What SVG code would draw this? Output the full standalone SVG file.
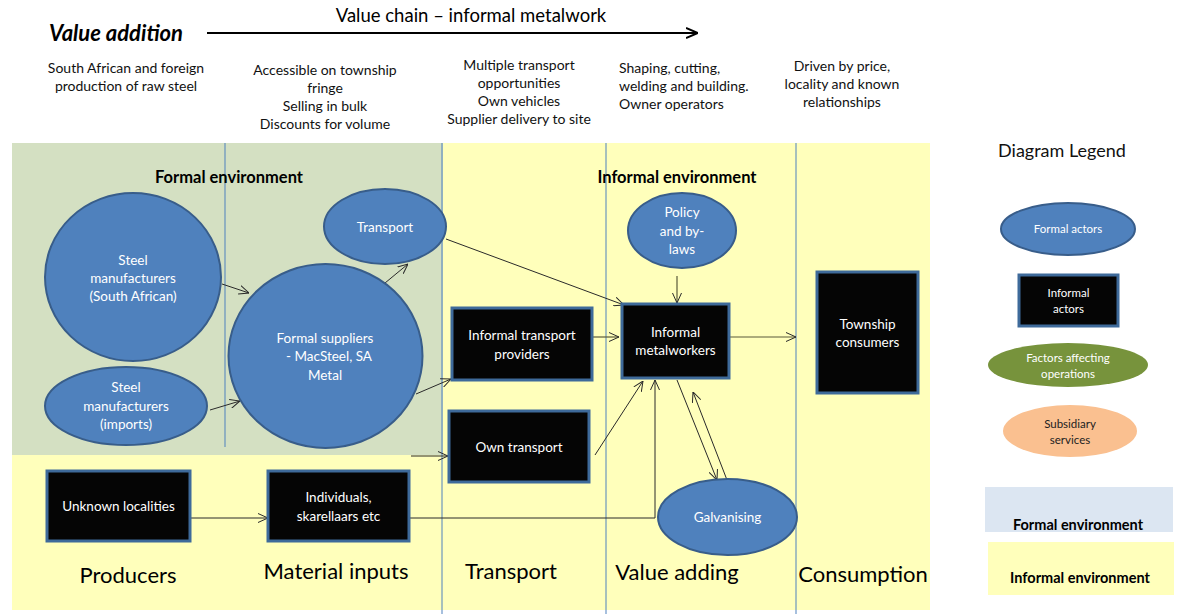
<svg xmlns="http://www.w3.org/2000/svg" width="1184" height="614" viewBox="0 0 1184 614">
<style>
text{font-family:Lato,"Open Sans","Liberation Sans",sans-serif}
.hdr{font-size:14px;fill:#111;text-anchor:middle}
.hdl{font-size:14px;fill:#111;text-anchor:start}
.wt{fill:#fff;font-size:13.5px;text-anchor:middle}
.ell{fill:#4f81bd;stroke:#385d8a;stroke-width:2}
.box{fill:#050505;stroke:#3e6a9a;stroke-width:3}
.vl{stroke:#4f81bd;stroke-width:1}
.env{font-size:16.5px;font-weight:bold;fill:#000;text-anchor:middle}
.stage{font-size:22px;fill:#000;text-anchor:middle}
.cn{fill:none;stroke:#2a2a2a;stroke-width:1}
.ol{fill:none;stroke:#5a5a3a;stroke-width:1.2}
.lg{font-size:11.5px;text-anchor:middle}
.lenv{font-size:14.5px;font-weight:bold;fill:#000;text-anchor:middle}
</style>
<defs>
<marker id="ah" viewBox="0 0 10 10" refX="10" refY="5" markerWidth="10" markerHeight="10" markerUnits="userSpaceOnUse" orient="auto">
<path d="M0,0.5 L10,5 L0,9.5" fill="none" stroke="#2a2a2a" stroke-width="1"/>
</marker>
<marker id="ahb" viewBox="0 0 12 12" refX="12" refY="6" markerWidth="12" markerHeight="12" markerUnits="userSpaceOnUse" orient="auto">
<path d="M0,1 L12,6 L0,11" fill="none" stroke="#000" stroke-width="2"/>
</marker>
</defs>
<rect width="1184" height="614" fill="#fff"/>
<!-- backgrounds -->
<rect x="12" y="143" width="918" height="467" fill="#ffffbb"/>
<rect x="12" y="143" width="431" height="312" fill="#d4e0c2"/>
<line class="vl" x1="225" y1="143" x2="225" y2="447"/>
<line class="vl" x1="442" y1="143" x2="442" y2="614"/>
<line class="vl" x1="606" y1="143" x2="606" y2="614"/>
<line class="vl" x1="796" y1="143" x2="796" y2="614"/>
<!-- header -->
<text x="49" y="41" font-size="22" font-weight="bold" font-style="italic" fill="#000">Value addition</text>
<text x="471" y="22" font-size="18.5" fill="#000" text-anchor="middle">Value chain – informal metalwork</text>
<line x1="207" y1="33" x2="698" y2="33" stroke="#000" stroke-width="2" marker-end="url(#ahb)"/>
<text class="hdr" x="126" y="73">South African and foreign</text>
<text class="hdr" x="126" y="91">production of raw steel</text>
<text class="hdr" x="325" y="75">Accessible on township</text>
<text class="hdr" x="325" y="93">fringe</text>
<text class="hdr" x="325" y="111">Selling in bulk</text>
<text class="hdr" x="325" y="129">Discounts for volume</text>
<text class="hdr" x="519" y="70">Multiple transport</text>
<text class="hdr" x="519" y="88">opportunities</text>
<text class="hdr" x="519" y="106">Own vehicles</text>
<text class="hdr" x="519" y="124">Supplier delivery to site</text>
<text class="hdl" x="619" y="73">Shaping, cutting,</text>
<text class="hdl" x="619" y="91">welding and building.</text>
<text class="hdl" x="619" y="109">Owner operators</text>
<text class="hdr" x="842" y="71">Driven by price,</text>
<text class="hdr" x="842" y="89">locality and known</text>
<text class="hdr" x="842" y="107">relationships</text>
<text class="env" x="229" y="183">Formal environment</text>
<text class="env" x="677" y="183">Informal environment</text>
<!-- connectors -->
<g id="connectors">
<line class="cn" x1="222" y1="284" x2="249" y2="293" marker-end="url(#ah)"/>
<line class="cn" x1="210" y1="410" x2="240" y2="401" marker-end="url(#ah)"/>
<line class="cn" x1="385" y1="283" x2="408" y2="264" marker-end="url(#ah)"/>
<line class="cn" x1="416" y1="394" x2="451" y2="379" marker-end="url(#ah)"/>
<line class="cn" x1="446" y1="239" x2="624" y2="305" marker-end="url(#ah)"/>
<line class="cn" x1="411" y1="456" x2="448" y2="456" marker-end="url(#ah)"/>
<line class="ol" x1="677" y1="276" x2="677" y2="303" marker-end="url(#ah)"/>
<line class="ol" x1="592" y1="337" x2="619" y2="337" marker-end="url(#ah)"/>
<line class="ol" x1="730" y1="337" x2="796" y2="337" marker-end="url(#ah)"/>
<line class="cn" x1="595" y1="455" x2="643" y2="381" marker-end="url(#ah)"/>
<line class="cn" x1="190" y1="518" x2="268" y2="518" marker-end="url(#ah)"/>
<polyline class="cn" points="409,518 655,518 655,380" marker-end="url(#ah)"/>
<line class="cn" x1="677" y1="380" x2="717" y2="480" marker-end="url(#ah)"/>
<line class="cn" x1="727" y1="480" x2="693" y2="392" marker-end="url(#ah)"/>
</g>
<!-- nodes -->
<g id="steel-sa">
<ellipse class="ell" cx="133" cy="277" rx="88" ry="84"/>
<text class="wt" x="133" y="265">Steel</text>
<text class="wt" x="133" y="283">manufacturers</text>
<text class="wt" x="133" y="301">(South African)</text>
</g>
<g id="steel-imports">
<ellipse class="ell" cx="126" cy="406" rx="81" ry="39"/>
<text class="wt" x="126" y="392">Steel</text>
<text class="wt" x="126" y="411">manufacturers</text>
<text class="wt" x="126" y="429">(imports)</text>
</g>
<g id="formal-suppliers">
<ellipse class="ell" cx="325.5" cy="356" rx="97" ry="92"/>
<text class="wt" x="325" y="343">Formal suppliers</text>
<text class="wt" x="329" y="361">- MacSteel, SA</text>
<text class="wt" x="325" y="380">Metal</text>
</g>
<g id="transport">
<ellipse class="ell" cx="385" cy="226.5" rx="61" ry="37.5"/>
<text class="wt" x="385" y="232">Transport</text>
</g>
<g id="policy">
<ellipse class="ell" cx="682" cy="230.5" rx="54" ry="37.5"/>
<text class="wt" x="682" y="217">Policy</text>
<text class="wt" x="682" y="236">and by-</text>
<text class="wt" x="682" y="254">laws</text>
</g>
<g id="informal-transport">
<rect class="box" x="452" y="308" width="140" height="72"/>
<text class="wt" x="522" y="340">Informal transport</text>
<text class="wt" x="522" y="359">providers</text>
</g>
<g id="metalworkers">
<rect class="box" x="622" y="304" width="107" height="74"/>
<text class="wt" x="675.5" y="337">Informal</text>
<text class="wt" x="675.5" y="355">metalworkers</text>
</g>
<g id="township">
<rect class="box" x="817" y="272" width="101" height="121"/>
<text class="wt" x="867.5" y="329">Township</text>
<text class="wt" x="867.5" y="347">consumers</text>
</g>
<g id="own-transport">
<rect class="box" x="449" y="411" width="140" height="71"/>
<text class="wt" x="519" y="452">Own transport</text>
</g>
<g id="unknown">
<rect class="box" x="47" y="471" width="143" height="70"/>
<text class="wt" x="118.5" y="511" font-size="13">Unknown localities</text>
</g>
<g id="individuals">
<rect class="box" x="268" y="471" width="141" height="70"/>
<text class="wt" x="338.5" y="502" font-size="12.5">Individuals,</text>
<text class="wt" x="338.5" y="521" font-size="12.5">skarellaars etc</text>
</g>
<g id="galvanising">
<ellipse class="ell" cx="727.5" cy="517" rx="69.5" ry="38"/>
<text class="wt" x="727.5" y="522" font-size="13">Galvanising</text>
</g>
<!-- stage labels -->
<text class="stage" x="128" y="583">Producers</text>
<text class="stage" x="336" y="579">Material inputs</text>
<text class="stage" x="511" y="579">Transport</text>
<text class="stage" x="677" y="580">Value adding</text>
<text class="stage" x="863" y="582">Consumption</text>
<!-- legend -->
<g id="legend">
<text x="1062" y="157" font-size="18" text-anchor="middle" fill="#111">Diagram Legend</text>
<ellipse class="ell" cx="1068" cy="229" rx="67" ry="26"/>
<text class="lg" x="1068" y="233" fill="#fff">Formal actors</text>
<rect class="box" x="1019" y="275" width="99" height="51"/>
<text class="lg" x="1068.5" y="297" fill="#fff">Informal</text>
<text class="lg" x="1068.5" y="313" fill="#fff">actors</text>
<ellipse cx="1068" cy="365" rx="80" ry="22" fill="#77933c"/>
<text class="lg" x="1068" y="362" fill="#fff">Factors affecting</text>
<text class="lg" x="1068" y="378" fill="#fff">operations</text>
<ellipse cx="1070" cy="431" rx="67" ry="26" fill="#fac090"/>
<text class="lg" x="1070" y="428" fill="#222">Subsidiary</text>
<text class="lg" x="1070" y="444" fill="#222">services</text>
<rect x="985" y="487" width="188" height="45" fill="#dce6f2"/>
<text class="lenv" x="1078" y="530">Formal environment</text>
<rect x="988" y="542" width="186" height="53" fill="#ffffbb"/>
<text class="lenv" x="1080" y="583">Informal environment</text>
</g>
</svg>
